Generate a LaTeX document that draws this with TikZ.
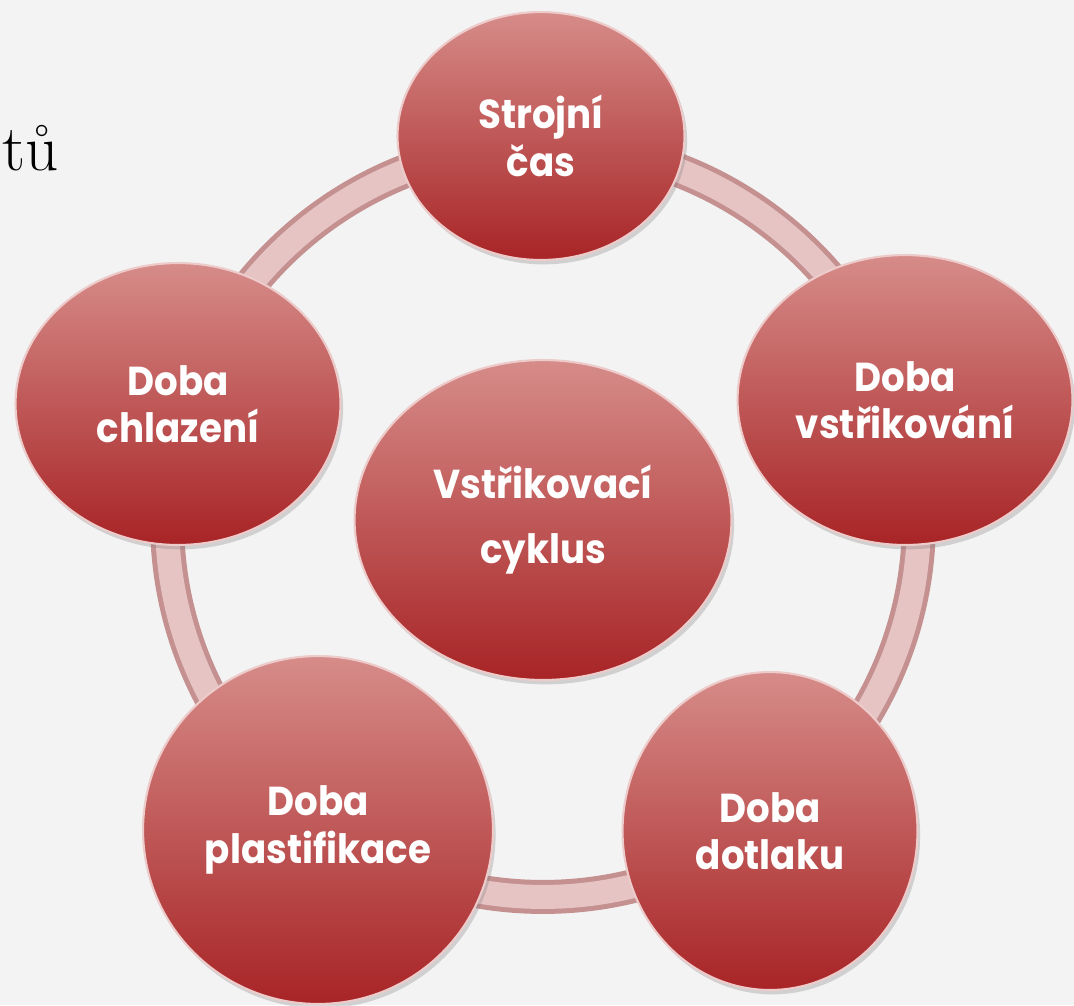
\documentclass[tikz,border=0pt]{standalone}
\usepackage{fontspec}
\newfontfamily\gothicFont[FakeStretch=0.92]{Poppins}
\usetikzlibrary{shapes}
\usetikzlibrary{shadows}

\definecolor{circTop}{RGB}{214,140,137}
\definecolor{circBot}{RGB}{168,36,38}
\definecolor{ringDark}{RGB}{196,144,144}
\definecolor{ringLight}{RGB}{231,196,196}
\definecolor{paper}{RGB}{243,243,243}

\begin{document}
\begin{tikzpicture}
[x=0.02cm,y=-0.02cm,%
  ringDecorate/.style={draw=ringDark,line width=0.68cm},%
  ringShine/.style={draw=ringLight,line width=0.48cm},%
  nodeDecorate/.style={shape=ellipse,inner sep=0pt,top color=circTop,bottom color=circBot,%
    draw=circTop!45!white,line width=1.2pt,%
    drop shadow={opacity=0.3,shadow xshift=1.5pt,shadow yshift=-2.5pt},%
    text=white,align=center,font=\gothicFont\bfseries\fontsize{23}{27}\selectfont}]
%% background
\fill[paper] (0,0) rectangle (1074,1005);
\useasboundingbox (0,0) rectangle (1074,1005);
\node[anchor=base west,inner sep=0pt,font=\fontsize{37}{44}\selectfont] (nadpis) at (2,170) {tů};
%% ring behind the circles
\coordinate (hub) at (543,521);
\draw[ringDecorate] (hub) circle[radius=7.52cm];
\draw[ringShine] (hub) circle[radius=7.52cm];
%% middle circle
\node[nodeDecorate,minimum width=7.54cm,minimum height=6.4cm,%
  font=\gothicFont\bfseries\fontsize{23}{37}\selectfont] (cyklus) at (543,520) {Vstřikovací\\cyklus};
%% outer circles
\foreach \nodename/\x/\y/\w/\h/\txt in {
  strojni/541/136/5.74/4.96/{Strojní\\čas},
  vstrik/905/400/6.7/5.8/{Doba\\vstřikování},
  dotlak/770/831/5.9/6.36/{Doba\\dotlaku},
  plast/318/830/7.0/6.96/{Doba\\plastifikace},
  chlaz/178/404/6.5/5.64/{Doba\\chlazení}}
{
  \node[nodeDecorate,minimum width=\w cm,minimum height=\h cm] (\nodename) at (\x,\y) {\txt};
}
\end{tikzpicture}
\end{document}
